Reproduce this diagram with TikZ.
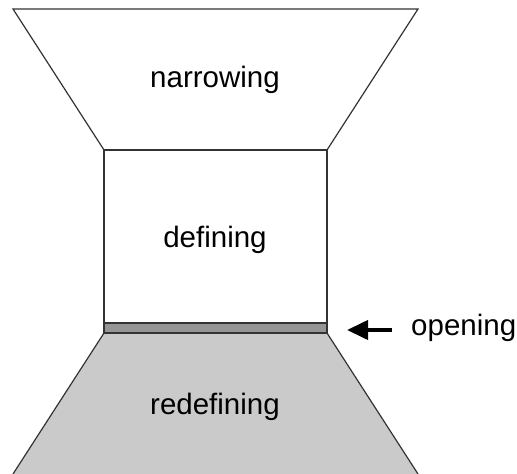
\documentclass[tikz,border=0pt]{standalone}
\usepackage{fontspec}
\setmainfont{Liberation Sans}
\usetikzlibrary{arrows.meta}
\definecolor{edgegray}{HTML}{333333}
\definecolor{lowfill}{HTML}{CACACA}
\definecolor{barfill}{HTML}{959595}
\tikzset{
  outline/.style={draw=edgegray, line width=1.2pt, line join=miter},
  label/.style={font=\fontsize{29.5}{32}\selectfont, inner sep=0pt},
  pointer/.style={line width=4pt, -{Triangle[length=21pt, width=19pt]}}
}
\begin{document}
\begin{tikzpicture}[x=1pt, y=-1pt]
  \useasboundingbox (0,0) rectangle (517,474);
  % funnel top: narrowing
  \draw[outline, fill=white] (13,9) -- (418,9) -- (327,150) -- (104,150) -- cycle;
  % middle box: defining
  \draw[outline, fill=white] (104,150) rectangle (327,323);
  % lower trapezoid: redefining (runs off the bottom edge)
  \fill[lowfill] (104,333) -- (327,333) -- (418,474) -- (13,474) -- cycle;
  \draw[outline] (13,474) -- (104,333) -- (327,333) -- (418,474);
  % the opening bar
  \draw[outline, fill=barfill] (104,323) rectangle (327,333);
  % labels
  \node[label] (narrow) at (215,80) {narrowing};
  \node[label] (define) at (215,240) {defining};
  \node[label] (redefine) at (215,407) {redefining};
  \node[label, anchor=west] (opening) at (411,328) {opening};
  \coordinate (bartip) at (347,330);
  \draw[pointer] ([xshift=-19pt, yshift=-2pt]opening.west) -- (bartip);
\end{tikzpicture}
\end{document}
